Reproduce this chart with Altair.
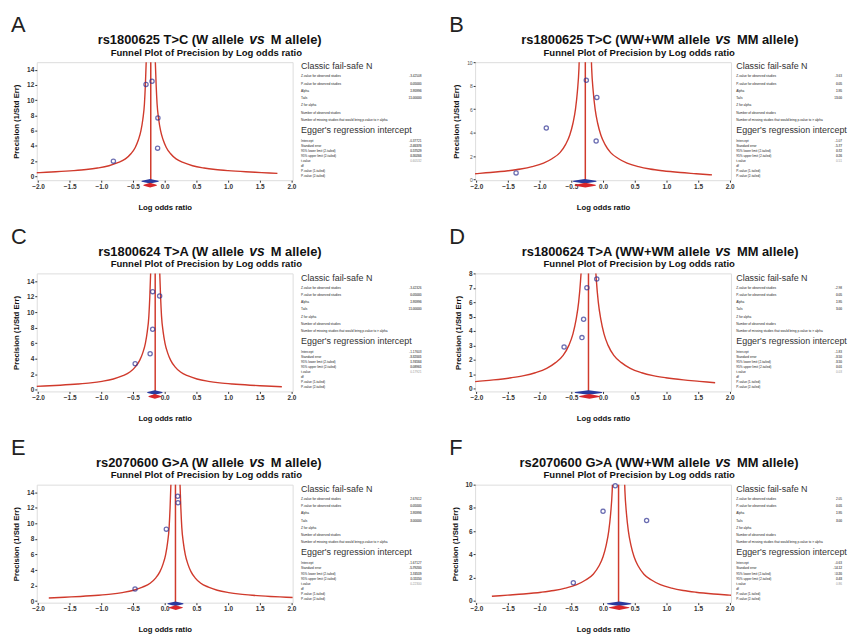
import altair as alt
import pandas as pd

# ---------------- data ----------------
PANEL_LETTERS = ["A", "B", "C", "D", "E", "F"]
TITLE_LEFT = ["rs1800625 T>C (W allele", "rs1800625 T>C (WW+WM allele",
              "rs1800624 T>A (W allele", "rs1800624 T>A (WW+WM allele",
              "rs2070600 G>A (W allele", "rs2070600 G>A (WW+WM allele"]
TITLE_RIGHT = ["M allele)", "MM allele)", "M allele)", "MM allele)", "M allele)", "MM allele)"]
SUBTITLE = "Funnel Plot of Precision by Log odds ratio"
X_TITLE = "Log odds ratio"
Y_TITLE = "Precision (1/Std Err)"

POOLED = [-0.22, -0.28, -0.15, -0.23, 0.17, 0.245]
STUDY_LOGOR = [
    [-0.81, -0.295, -0.20, -0.107, -0.112],
    [-1.373, -0.896, -0.264, -0.098, -0.109],
    [-0.466, -0.23, -0.19, -0.19, -0.08],
    [-0.615, -0.333, -0.307, -0.255, -0.099],
    [-0.468, 0.026, 0.205, 0.21],
    [-0.469, 0.0, 0.193, 0.688],
]
STUDY_PREC = [
    [2.0, 12.08, 12.5, 7.68, 3.71],
    [0.57, 4.4, 8.46, 7.0, 3.29],
    [3.38, 4.66, 7.8, 12.65, 12.1],
    [2.89, 3.54, 4.81, 7.0, 7.61],
    [1.55, 9.27, 13.5, 12.67],
    [1.57, 7.71, 9.91, 6.91],
]
OBS_CI_LO = [-0.36, -0.47, -0.27, -0.44, 0.05, 0.07]
OBS_CI_HI = [-0.10, -0.11, -0.04, -0.02, 0.29, 0.44]
ADJ_CI_LO = [-0.33, -0.44, -0.25, -0.37, 0.07, 0.10]
ADJ_CI_HI = [-0.13, -0.12, -0.06, -0.06, 0.28, 0.41]

# funnel half-width (log OR units) at each precision level
FUNNEL_PREC = [0.40, 0.50, 0.60, 0.75, 0.90, 1.10, 1.40, 1.80, 2.30, 3.00, 3.80,
               4.80, 6.00, 7.50, 9.50, 12.0, 15.5]
FUNNEL_HALF = [2.00, 1.75, 1.50, 1.22, 1.02, 0.84, 0.66, 0.52, 0.40, 0.31, 0.245,
               0.195, 0.155, 0.125, 0.10, 0.085, 0.07]

Y_MIN = [-0.5, -0.05, -0.2, -0.2, -0.2, -0.15]
Y_MAX = [15, 10, 15, 8, 15, 10]
Y_TICKS = [[0, 2, 4, 6, 8, 10, 12, 14], [0, 2, 4, 6, 8, 10], [0, 2, 4, 6, 8, 10, 12, 14],
           [0, 1, 2, 3, 4, 5, 6, 7, 8], [0, 2, 4, 6, 8, 10, 12, 14], [0, 2, 4, 6, 8, 10]]
X_TICKS = [-2.0, -1.5, -1.0, -0.5, 0.0, 0.5, 1.0, 1.5, 2.0]

CLASSIC_HEAD = "Classic fail-safe N"
EGGER_HEAD = "Egger's regression intercept"
CLASSIC_LABELS = ["Z-value for observed studies", "P-value for observed studies", "Alpha", "Tails",
                  "Z for alpha", "Number of observed studies",
                  "Number of missing studies that would bring p-value to > alpha"]
EGGER_LABELS = ["Intercept", "Standard error", "95% lower limit (2-tailed)", "95% upper limit (2-tailed)",
                "t-value", "df", "P-value (1-tailed)", "P-value (2-tailed)"]
CLASSIC_VALUES = [
    ["-3.42508", "0.00061", "0.05000", "2.00000", "1.95996", "5.00000", "11.00000"],
    ["-3.63", "0.00", "0.05", "2.00", "1.95", "5.00", "13.00"],
    ["-3.42326", "0.00061", "0.05000", "2.00000", "1.95996", "5.00000", "11.00000"],
    ["-2.98", "0.00", "0.05", "2.00", "1.95", "5.00", "3.00"],
    ["2.67612", "0.00745", "0.05000", "2.00000", "1.95996", "4.00000", "3.00000"],
    ["2.05", "0.04", "0.05", "2.00", "1.95", "4.00", "3.00"],
]
EGGER_VALUES = [
    ["-0.37721", "0.65569", "-2.46376", "1.70934", "0.57529", "3.00000", "0.30266", "0.60532"],
    ["-1.07", "1.47", "-5.77", "3.63", "0.72", "3.00", "0.26", "0.51"],
    ["-1.17603", "0.67369", "-3.32001", "0.96795", "1.74564", "3.00000", "0.08961", "0.17921"],
    ["-1.83", "0.52", "-3.50", "-0.15", "3.50", "3.00", "0.01", "0.03"],
    ["-1.67127", "0.95765", "-5.79200", "2.44946", "1.74519", "2.00000", "0.11150", "0.22300"],
    ["-0.63", "3.13", "-14.12", "12.86", "0.20", "2.00", "0.43", "0.86"],
]

# ---------------- style / layout ----------------
FONT = "Liberation Sans"
RED = "#d03a2c"
BLUE = "#2e3192"
W, H = 258, 119
X_DOMAIN = [-2.02, 2.02]


def text_layer(txt, x, y, size, weight="normal", style="normal", align="left",
               baseline="middle", color="#111", line_height=None):
    props = dict(font=FONT, fontSize=size, fontWeight=weight, fontStyle=style,
                 align=align, baseline=baseline, color=color)
    if line_height is not None:
        props.update(lineBreak="\n", lineHeight=line_height)
    return alt.Chart(pd.DataFrame({"t": [txt]})).mark_text(**props).encode(
        text="t:N", x=alt.value(x), y=alt.value(y))


def alternate(lines, dark):
    return "\n".join(l if ((k % 2 == 0) == dark) else " " for k, l in enumerate(lines))


def panel(i):
    col = i % 2
    est = POOLED[i]
    xscale = alt.Scale(domain=X_DOMAIN, nice=False, zero=False)
    yscale = alt.Scale(domain=[Y_MIN[i], Y_MAX[i]], nice=False, zero=False)
    small = (i == 1)
    xaxis = alt.Axis(values=X_TICKS, format=".1f", title=X_TITLE, titleFont=FONT,
                     titleFontSize=7.8, titleFontWeight="bold", titleColor="#111",
                     titlePadding=14, labelFont=FONT, labelFontSize=6.5,
                     labelFontWeight="bold", labelColor="#333", labelPadding=1,
                     tickSize=2, tickColor="#333", domain=False, grid=False,
                     labelFlush=False, labelOverlap=False)
    yaxis = alt.Axis(values=Y_TICKS[i], format="d", title=Y_TITLE, titleFont=FONT,
                     titleFontSize=7.8, titleFontWeight="bold", titleColor="#111",
                     titlePadding=6, labelFont=FONT, labelFontSize=5 if small else 6.5,
                     labelFontWeight="normal" if small else "bold",
                     labelColor="#555" if small else "#333", labelPadding=1,
                     tickSize=2, tickColor="#333", domain=False, grid=False,
                     labelFlush=False, labelOverlap=False)
    X = lambda f: alt.X(f, scale=xscale, axis=xaxis)
    Y = lambda f: alt.Y(f, scale=yscale, axis=yaxis)

    rows = []
    for p, hw in zip(FUNNEL_PREC, FUNNEL_HALF):
        rows.append({"side": "left", "x": est - hw, "prec": p})
        rows.append({"side": "right", "x": est + hw, "prec": p})
    funnel = alt.Chart(pd.DataFrame(rows)).mark_line(
        clip=True, color=RED, strokeWidth=1.4, interpolate="monotone").encode(
        x=X("x:Q"), y=Y("prec:Q"), detail="side:N")

    rule = alt.Chart(pd.DataFrame({"x": [est]})).mark_rule(
        color=RED, strokeWidth=1.5).encode(x=X("x:Q"))

    pts = alt.Chart(pd.DataFrame({"x": STUDY_LOGOR[i], "prec": STUDY_PREC[i]})).mark_point(
        shape="circle", filled=False, color=BLUE, size=18, strokeWidth=1.3).encode(
        x=X("x:Q"), y=Y("prec:Q"))

    def diamond(lo, hi, color, yoff):
        d = pd.DataFrame({"x": [lo, (lo + hi) / 2, hi], "part": ["end", "mid", "end"]})
        return alt.Chart(d).mark_trail(color=color).encode(
            x=X("x:Q"), y=alt.value(H + yoff),
            size=alt.Size("part:O", scale=alt.Scale(domain=["end", "mid"], range=[0, 4.6]),
                          legend=None))

    blue_d = diamond(OBS_CI_LO[i], OBS_CI_HI[i], "#2a3a9e", 1)
    red_d = diamond(ADJ_CI_LO[i], ADJ_CI_HI[i], "#d8262a", 5)

    vs_x = 222 if col == 0 else 250
    sub_x = 171 if col == 0 else 165.5
    st_x = 266.5 if col == 0 else 263.3
    val_x = 388 if col == 0 else 370

    texts = [
        text_layer(PANEL_LETTERS[i], -26, -30, 22, baseline="alphabetic", color="#222"),
        text_layer(TITLE_LEFT[i], vs_x - 13, -22, 13, weight="bold", align="right"),
        text_layer("vs", vs_x, -22, 14, weight="bold", style="italic", align="center"),
        text_layer(TITLE_RIGHT[i], vs_x + 14, -22, 13, weight="bold", align="left"),
        text_layer(SUBTITLE, sub_x, -9.5, 9.6, weight="bold", align="center"),
        text_layer(CLASSIC_HEAD, st_x, 4.3, 9, color="#333"),
        text_layer("\n".join(CLASSIC_LABELS), st_x, 12.4, 3.2, baseline="top",
                   color="#222", line_height=7.28),
        text_layer(alternate(CLASSIC_VALUES[i], True), val_x, 12.4, 3.2, baseline="top",
                   align="right", color="#222", line_height=7.28),
        text_layer(alternate(CLASSIC_VALUES[i], False), val_x, 12.4, 3.2, baseline="top",
                   align="right", color="#999", line_height=7.28),
        text_layer(EGGER_HEAD, st_x, 68.4, 9, color="#333"),
        text_layer("\n".join(EGGER_LABELS), st_x, 77.5, 3.2, baseline="top",
                   color="#222", line_height=5.07),
        text_layer(alternate(EGGER_VALUES[i], True), val_x, 77.5, 3.2, baseline="top",
                   align="right", color="#222", line_height=5.07),
        text_layer(alternate(EGGER_VALUES[i], False), val_x, 77.5, 3.2, baseline="top",
                   align="right", color="#999", line_height=5.07),
    ]
    return alt.layer(funnel, rule, pts, blue_d, red_d, *texts).properties(width=W, height=H)


rows = [alt.hconcat(panel(2 * r), panel(2 * r + 1), spacing=26) for r in range(3)]
chart = alt.vconcat(*rows, spacing=13).properties(
    padding={"left": 2, "top": 3, "right": 0, "bottom": 0}
).configure_view(stroke="#1a1a1a", strokeWidth=1.6).configure(font=FONT)

chart.save("out.html", embed_options={"renderer": "svg", "actions": False})
